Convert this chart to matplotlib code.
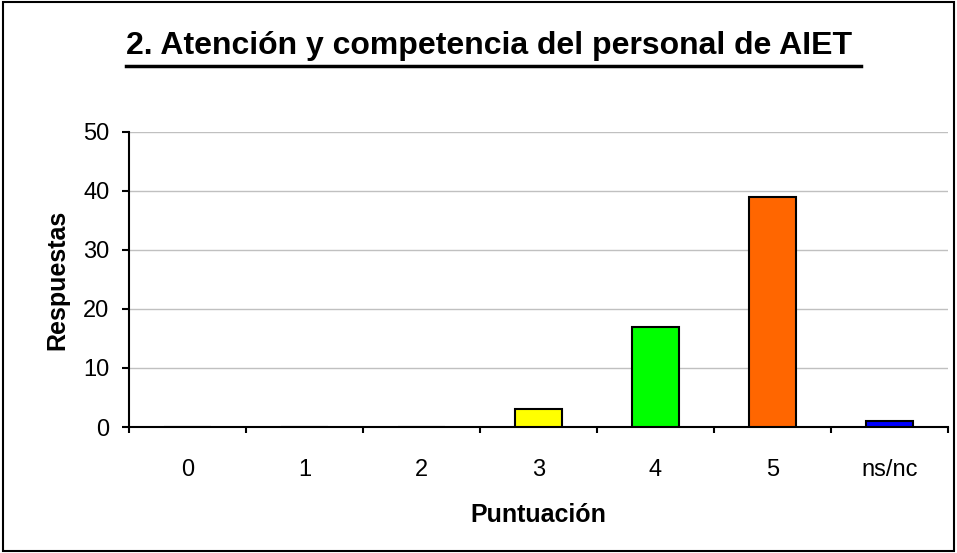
import matplotlib
matplotlib.use('Agg')
import matplotlib.pyplot as plt
from matplotlib.lines import Line2D

categories = ['0', '1', '2', '3', '4', '5', 'ns/nc']
values = [0, 0, 0, 3, 17, 39, 1]
colors = ['#FFFF00', '#FFFF00', '#FFFF00', '#FFFF00', '#00FF00', '#FF6600', '#0000FF']

plt.rcParams['font.family'] = ['Liberation Sans', 'DejaVu Sans']

fig = plt.figure(figsize=(9.57, 5.53), dpi=100)
fig.patches.append(plt.Rectangle((0.003, 0.003), 0.994, 0.994, transform=fig.transFigure,
                                 fill=False, edgecolor='black', linewidth=1.5))

ax = fig.add_axes([0.1348, 0.2278, 0.8558, 0.534])
x = range(len(categories))
ax.bar(x, values, width=0.41, color=colors, edgecolor='black', linewidth=1.5, zorder=3)

ax.set_xlim(-0.5, len(categories) - 0.5)
ax.set_ylim(0, 50)
ax.set_yticks(range(0, 51, 10))
ax.yaxis.grid(True, color='#c0c0c0', linewidth=1, zorder=0)

ax.set_xticks(x)
ax.set_xticklabels(categories, fontsize=17)
ax.tick_params(axis='x', length=0, pad=23)
ax.set_xticks([i - 0.5 for i in range(len(categories) + 1)], minor=True)
ax.tick_params(axis='x', which='minor', length=4.5, width=1.5, direction='out')
ax.tick_params(axis='y', labelsize=17, length=5, width=1.5, direction='out', pad=9)

for s in ['top', 'right']:
    ax.spines[s].set_visible(False)
for s in ['left', 'bottom']:
    ax.spines[s].set_linewidth(1.5)

ax.set_xlabel('Puntuación', fontsize=18, fontweight='bold', labelpad=16)
ax.set_ylabel('Respuestas', fontsize=18, fontweight='bold', labelpad=10)

title = fig.text(0.516, 0.916, '2. Atención y competencia del personal de AIET ',
                 ha='center', va='center', fontsize=23, fontweight='bold')
fig.canvas.draw()
bb = title.get_window_extent().transformed(fig.transFigure.inverted())
fig.lines.append(Line2D([bb.x0, bb.x1], [0.880, 0.880],
                        transform=fig.transFigure, color='black', linewidth=2.5))

fig.savefig('out.png', dpi=100)
